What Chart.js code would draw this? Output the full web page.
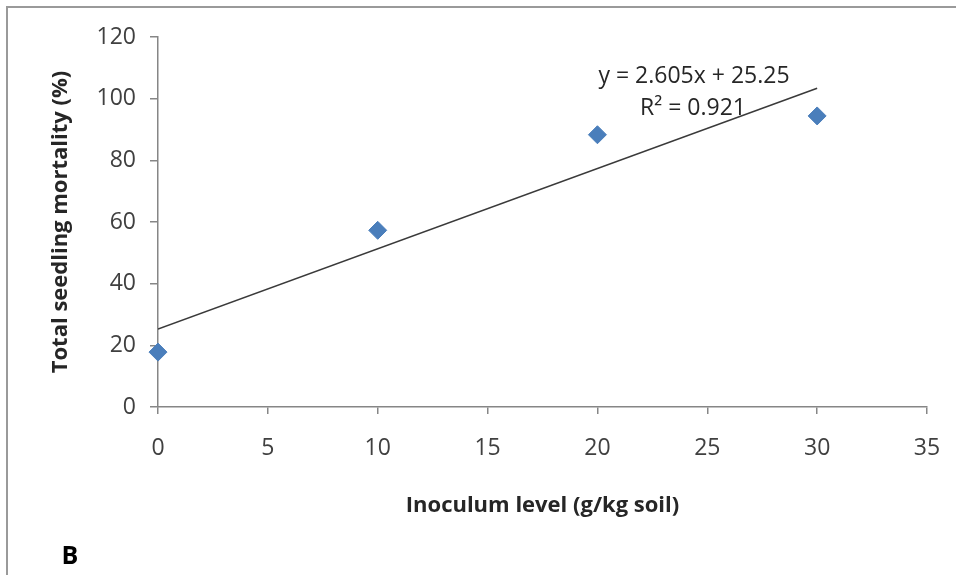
<!DOCTYPE html>
<html>
<head>
<meta charset="utf-8">
<script src="https://cdn.jsdelivr.net/npm/chart.js@4/dist/chart.umd.min.js"></script>
<style>
  body { margin: 0; background: #fff; }
  #wrap { position: relative; width: 956px; height: 575px; }
</style>
</head>
<body>
<div id="wrap"><canvas id="chart"></canvas></div>
<script>
// data
const inoculum = [0, 10, 20, 30];
const mortality = [17.8, 57.3, 88.3, 94.4];
const slope = 2.605;
const intercept = 25.25;
const xTicks = [0, 5, 10, 15, 20, 25, 30, 35];
const yTicks = [0, 20, 40, 60, 80, 100, 120];

const axisGray = '#868686';
const tickText = '#404040';
const font = "'Open Sans', 'Liberation Sans', sans-serif";

const points = inoculum.map((x, i) => ({ x: x, y: mortality[i] }));
const trend = [inoculum[0], inoculum[inoculum.length - 1]].map(x => ({ x: x, y: slope * x + intercept }));

// frame lines, equation text and panel letter
const extras = {
    id: 'extras',
    beforeDraw(chart) {
        const c = chart.ctx;
        c.save();
        c.strokeStyle = '#9a9a9a';
        c.lineWidth = 2;
        c.beginPath();
        c.moveTo(7, 575);
        c.lineTo(7, 7);
        c.lineTo(956, 7);
        c.stroke();
        c.restore();
    },
    afterDraw(chart) {
        const c = chart.ctx;
        c.save();
        c.fillStyle = '#262626';
        c.textAlign = 'center';
        c.textBaseline = 'middle';
        c.font = '23px ' + font;
        c.fillText('y = 2.605x + 25.25', 694, 76);
        c.fillText('R\u00B2 = 0.921', 693, 108);
        c.fillStyle = '#000';
        c.font = 'bold 25px ' + font;
        c.fillText('B', 70, 557);
        c.restore();
    }
};

new Chart(document.getElementById('chart'), {
    type: 'scatter',
    data: {
        datasets: [{
            label: 'Mortality',
            data: points,
            pointStyle: 'rectRot',
            pointRadius: 9,
            pointBackgroundColor: '#4a7ebb',
            pointBorderColor: '#4a7ebb',
            pointBorderWidth: 1,
            showLine: false,
            clip: false
        }, {
            label: 'Linear',
            type: 'line',
            data: trend,
            borderColor: '#3a3a3a',
            borderWidth: 1.5,
            pointRadius: 0,
            fill: false
        }]
    },
    options: {
        responsive: true,
        maintainAspectRatio: false,
        animation: false,
        layout: { padding: { top: 37, right: 29, left: 0, bottom: 0 } },
        plugins: {
            legend: { display: false },
            tooltip: { enabled: false }
        },
        scales: {
            x: {
                type: 'linear',
                min: 0,
                max: 35,
                afterBuildTicks: s => { s.ticks = xTicks.map(v => ({ value: v })); },
                afterFit: s => { s.height = 168; s.paddingRight = 0; s.paddingLeft = 0; },
                border: { color: axisGray, width: 1.5 },
                grid: { drawOnChartArea: false, color: axisGray, tickLength: 7, lineWidth: 1.5 },
                ticks: { color: tickText, font: { family: font, size: 23 }, padding: 21, maxRotation: 0 },
                title: {
                    display: true,
                    text: 'Inoculum level (g/kg soil)',
                    color: '#262626',
                    font: { family: font, size: 22, weight: 'bold' },
                    padding: { bottom: 56 }
                }
            },
            y: {
                min: 0,
                max: 120,
                afterBuildTicks: s => { s.ticks = yTicks.map(v => ({ value: v })); },
                afterFit: s => { s.width = 158; },
                border: { color: axisGray, width: 1.5 },
                grid: { drawOnChartArea: false, color: axisGray, tickLength: 8, lineWidth: 1.5 },
                ticks: { color: tickText, font: { family: font, size: 23 }, padding: 14 },
                title: {
                    display: true,
                    text: 'Total seedling mortality (%)',
                    color: '#262626',
                    font: { family: font, size: 22, weight: 'bold' },
                    padding: { top: 48 }
                }
            }
        }
    },
    plugins: [extras]
});
</script>
</body>
</html>
